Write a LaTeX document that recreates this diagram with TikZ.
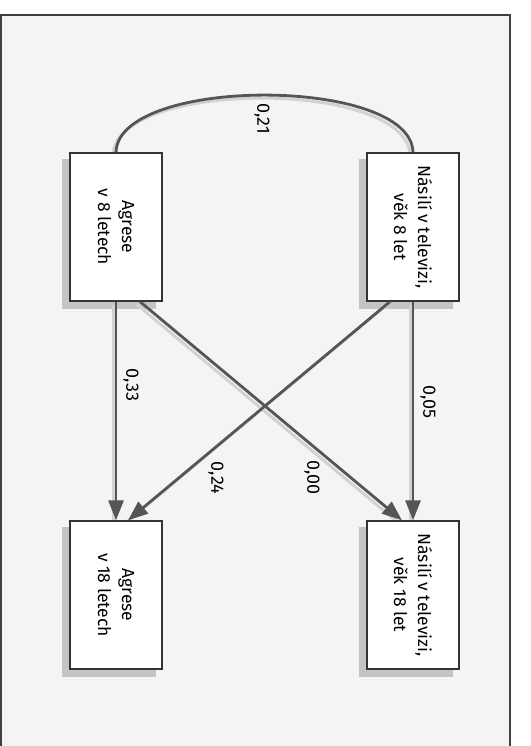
\documentclass[tikz,border=0pt]{standalone}
\usepackage{fontspec}
\setmainfont{Fira Sans}
\usetikzlibrary{arrows.meta,calc}
\pgfdeclarelayer{bg}
\pgfdeclarelayer{shad}
\pgfsetlayers{bg,shad,main}
\definecolor{linecol}{HTML}{555555}
\definecolor{shadcol}{HTML}{C4C4C4}
\definecolor{lshadcol}{HTML}{D2D2D2}
\definecolor{pagecol}{HTML}{F4F4F4}
\begin{document}
\begin{tikzpicture}[x=1pt,y=-1pt,
  box/.style={draw=black!80, line width=1.3pt, fill=white, rotate=-90,
    minimum width=148pt, minimum height=92pt, inner sep=0pt, align=center,
    font=\fontsize{17.5}{24}\selectfont},
  lbl/.style={rotate=-90, inner sep=0pt, font=\fontsize{18}{20}\selectfont},
  conn/.style={draw=linecol, line width=2.8pt, -{Triangle[length=20pt,width=15pt]}},
  arcline/.style={draw=linecol, line width=2.8pt},
  lshadow/.style={draw=lshadcol, line width=3pt, transform canvas={xshift=-3pt,yshift=-3pt}},
  frame/.style={draw=black!75, line width=1.3pt}]
\useasboundingbox (0,0) rectangle (530,746);
\begin{pgfonlayer}{bg}
  \fill[pagecol] (1,15) rectangle (510,746);
  \draw[frame] (1,746) -- (1,15) -- (510,15) -- (510,746);
\end{pgfonlayer}

\node[box] (a8) at (116,227) {Agrese\\v 8 letech};
\node[box] (n8) at (413,227) {Násilí v televizi,\\věk 8 let};
\node[box] (a18) at (116,595) {Agrese\\v 18 letech};
\node[box] (n18) at (413,595) {Násilí v televizi,\\věk 18 let};

\begin{pgfonlayer}{shad}
  \foreach \n in {a8,n8,a18,n18}{
    \fill[shadcol] ([shift={(-7,7)}]\n.south west) rectangle ([shift={(-7,7)}]\n.north east);
  }
  \draw[lshadow] (a8.west) .. controls (118,76) and (411,76) .. (n8.west);
  \draw[lshadow] (a8.east) -- (a18.west);
  \draw[lshadow] (n8.east) -- (n18.west);
  \draw[lshadow] ([xshift=24pt]a8.east) -- ([xshift=-11pt]n18.west);
  \draw[lshadow] ([xshift=-23pt]n8.east) -- ([xshift=12pt]a18.west);
\end{pgfonlayer}

\draw[arcline] (a8.west) .. controls (118,76) and (411,76) .. (n8.west);
\draw[conn] (a8.east) -- (a18.west);
\draw[conn] (n8.east) -- (n18.west);
\draw[conn] ([xshift=24pt]a8.east) -- ([xshift=-11pt]n18.west);
\draw[conn] ([xshift=-23pt]n8.east) -- ([xshift=12pt]a18.west);

\node[lbl] (l21) at (262,119) {0,21};
\node[lbl] (l33) at (131,385) {0,33};
\node[lbl] (l05) at (428,402) {0,05};
\node[lbl] (l24) at (216,478) {0,24};
\node[lbl] (l00) at (312,478) {0,00};
\end{tikzpicture}
\end{document}
